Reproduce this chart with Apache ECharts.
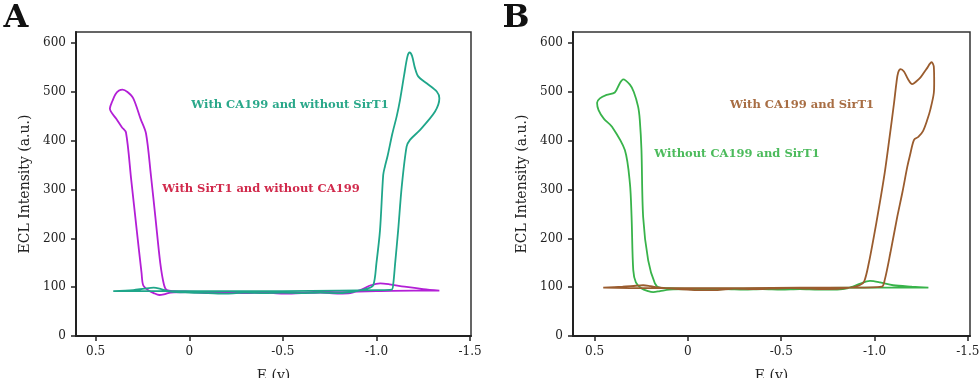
<!DOCTYPE html>
<html>
<head>
<meta charset="utf-8">
<script src="https://cdn.jsdelivr.net/npm/echarts@6/dist/echarts.min.js"></script>
<style>
  html, body { margin: 0; padding: 0; background: #fff; }
  #chart { width: 980px; height: 378px; }
</style>
</head>
<body>
<div id="chart"></div>
<script>
// tick values
const xTicks = [0.5, 0, -0.5, -1.0, -1.5]
const yTicks = [0, 100, 200, 300, 400, 500, 600]

// panel A: With SirT1 and without CA199  [E (v), ECL]
const sirt1NoCa199 = [
  [-1.336, 93], [-1.2, 93], [-1.0, 92], [-0.9, 91], [-0.8, 90], [-0.7, 91], [-0.6, 89], [-0.5, 90],
  [-0.4, 89], [-0.3, 90], [-0.2, 89], [-0.1, 90], [0.0, 91], [0.08, 92], [0.12, 94],
  [0.135, 105], [0.155, 150], [0.18, 240], [0.205, 330], [0.231, 415],
  [0.26, 445], [0.299, 487], [0.33, 500], [0.356, 505], [0.375, 503], [0.395, 495], [0.41, 482], [0.424, 466],
  [0.39, 445], [0.36, 428], [0.338, 417], [0.31, 320], [0.28, 215], [0.255, 130], [0.246, 104],
  [0.22, 94], [0.19, 88], [0.16, 84], [0.13, 86], [0.10, 89],
  [0.0, 90], [-0.1, 88], [-0.2, 89], [-0.3, 88], [-0.4, 89], [-0.5, 87], [-0.6, 88], [-0.7, 89],
  [-0.8, 87], [-0.86, 88], [-0.92, 95], [-0.97, 104], [-1.02, 108], [-1.07, 106], [-1.15, 101],
  [-1.25, 96], [-1.336, 93]
]

// panel A: With CA199 and without SirT1
const ca199NoSirt1 = [
  [0.406, 92], [0.3, 94], [0.24, 97], [0.19, 99], [0.15, 96], [0.1, 91], [0.0, 89], [-0.1, 88],
  [-0.2, 87], [-0.3, 89], [-0.4, 88], [-0.5, 89], [-0.6, 88], [-0.7, 89], [-0.8, 88], [-0.88, 91],
  [-0.95, 97], [-0.983, 104],
  [-1.0, 150], [-1.019, 217], [-1.036, 330], [-1.045, 347], [-1.06, 370], [-1.085, 415], [-1.108, 450],
  [-1.126, 484], [-1.148, 535], [-1.165, 572], [-1.177, 581], [-1.19, 574], [-1.205, 550], [-1.223, 532],
  [-1.268, 518], [-1.322, 501], [-1.336, 487], [-1.313, 460], [-1.232, 422], [-1.179, 402], [-1.161, 388],
  [-1.135, 306], [-1.116, 217], [-1.1, 150], [-1.09, 108], [-1.081, 95],
  [-1.0, 94], [-0.8, 93], [-0.5, 92], [-0.2, 92], [0.1, 92], [0.406, 92]
]

// panel B: With CA199 and SirT1
const ca199Sirt1 = [
  [0.454, 99], [0.35, 101], [0.28, 103], [0.24, 104], [0.2, 102], [0.15, 99], [0.05, 96], [-0.05, 94],
  [-0.15, 94], [-0.25, 97], [-0.35, 96], [-0.45, 97], [-0.55, 98], [-0.65, 97], [-0.75, 96], [-0.85, 98],
  [-0.92, 104], [-0.945, 112],
  [-0.97, 150], [-0.995, 200], [-1.025, 265], [-1.055, 335], [-1.08, 405], [-1.105, 478], [-1.118, 520],
  [-1.127, 540], [-1.14, 547], [-1.158, 542], [-1.18, 526], [-1.202, 516], [-1.225, 522], [-1.247, 530],
  [-1.28, 548], [-1.306, 561], [-1.318, 552], [-1.32, 520], [-1.318, 498], [-1.3, 465], [-1.283, 443],
  [-1.26, 420], [-1.235, 408], [-1.212, 402], [-1.19, 370], [-1.176, 347], [-1.15, 295], [-1.122, 244],
  [-1.085, 170], [-1.055, 115], [-1.039, 101],
  [-0.9, 99], [-0.6, 99], [-0.3, 98], [0, 98], [0.2, 98], [0.454, 99]
]

// panel B: Without CA199 and SirT1
const noCa199NoSirt1 = [
  [0.10, 98], [0.15, 99], [0.177, 108], [0.213, 155], [0.24, 244], [0.249, 381], [0.258, 443], [0.267, 470],
  [0.29, 500], [0.311, 515], [0.347, 526], [0.365, 518], [0.392, 499], [0.436, 494], [0.472, 487],
  [0.487, 478], [0.479, 463], [0.45, 445], [0.407, 429], [0.338, 381], [0.311, 313], [0.302, 244],
  [0.293, 135], [0.279, 110], [0.25, 98], [0.213, 92], [0.186, 90], [0.15, 92], [0.1, 95],
  [0.0, 96], [-0.1, 95], [-0.2, 96], [-0.3, 95], [-0.4, 96], [-0.5, 95], [-0.6, 96], [-0.7, 95],
  [-0.8, 95], [-0.86, 98], [-0.92, 107], [-0.976, 113], [-1.03, 110], [-1.1, 104], [-1.2, 101], [-1.289, 99],
  [-1.1, 99], [-0.9, 99], [-0.6, 98], [-0.3, 97], [0.0, 97], [0.1, 98]
]

const serif = 'DejaVu Serif'
const axisColor = '#222'

function xAxis(gridIndex, min, max) {
  return {
    type: 'value', gridIndex, inverse: true, min, max, position: 'bottom',
    name: 'E (v)', nameLocation: 'middle', nameGap: 33,
    nameTextStyle: { fontFamily: serif, fontSize: 14, color: '#222' },
    axisLine: { onZero: false, lineStyle: { color: axisColor, width: 2 } },
    axisTick: { show: true, length: 5, customValues: xTicks, lineStyle: { color: axisColor, width: 1.5 } },
    axisLabel: {
      customValues: xTicks, margin: 10, fontFamily: serif, fontSize: 12, color: '#222',
      formatter: v => (v === 0 ? '0' : v.toFixed(1))
    },
    splitLine: { show: false }
  }
}

function yAxis(gridIndex) {
  return {
    type: 'value', gridIndex, min: 0, max: 623, position: 'left',
    name: 'ECL Intensity (a.u.)', nameLocation: 'middle', nameGap: 44,
    nameTextStyle: { fontFamily: serif, fontSize: 14, color: '#222' },
    axisLine: { show: true, onZero: false, lineStyle: { color: axisColor, width: 2 } },
    axisTick: { show: true, length: 5, customValues: yTicks, lineStyle: { color: axisColor, width: 1.5 } },
    axisLabel: { customValues: yTicks, margin: 10, fontFamily: serif, fontSize: 12, color: '#222' },
    splitLine: { show: false }
  }
}

function curve(name, data, idx, color) {
  return {
    name, type: 'line', data, xAxisIndex: idx, yAxisIndex: idx,
    showSymbol: false, smooth: 0.3, clip: false,
    lineStyle: { color, width: 1.8 }
  }
}

function label(text, x, y, color, size) {
  return {
    type: 'text', x, y,
    style: { text, fill: color, font: 'bold ' + size + 'px "' + serif + '"', align: 'center', verticalAlign: 'middle' }
  }
}

const chart = echarts.init(document.getElementById('chart'))
chart.setOption({
  animation: false,
  backgroundColor: '#fff',
  grid: [
    { left: 76, top: 32, width: 395, height: 304, outerBoundsMode: 'none', containLabel: false, show: true, borderColor: '#333', borderWidth: 1.5, backgroundColor: 'transparent' },
    { left: 573, top: 32, width: 397, height: 304, outerBoundsMode: 'none', containLabel: false, show: true, borderColor: '#333', borderWidth: 1.5, backgroundColor: 'transparent' }
  ],
  xAxis: [xAxis(0, -1.505, 0.605), xAxis(1, -1.512, 0.616)],
  yAxis: [yAxis(0), yAxis(1)],
  series: [
    curve('With SirT1 and without CA199', sirt1NoCa199, 0, '#b31fd6'),
    curve('With CA199 and without SirT1', ca199NoSirt1, 0, '#1fa68a'),
    curve('Without CA199 and SirT1', noCa199NoSirt1, 1, '#38b34a'),
    curve('With CA199 and SirT1', ca199Sirt1, 1, '#9a5c2e')
  ],
  graphic: [
    label('A', 16, 19, '#111', 32),
    label('B', 516, 19, '#111', 32),
    label('With CA199 and without SirT1', 290, 105, '#2aa88a', 11.5),
    label('With SirT1 and without CA199', 261, 189, '#d12a4c', 11.5),
    label('With CA199 and SirT1', 802, 105, '#a86e44', 11.5),
    label('Without CA199 and SirT1', 737, 154, '#4cbb5c', 11.5)
  ]
})
</script>
</body>
</html>
